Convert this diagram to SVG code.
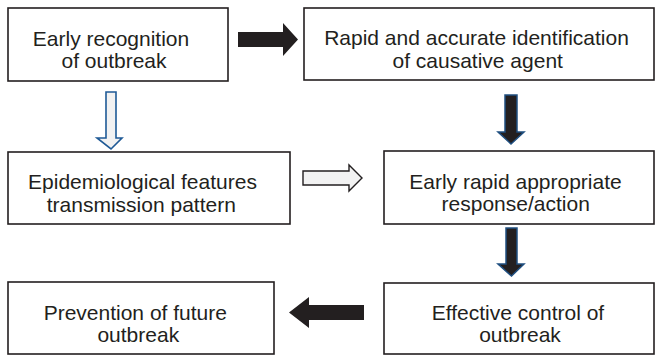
<svg xmlns="http://www.w3.org/2000/svg" width="656" height="356" viewBox="0 0 656 356">
<style>
.box{fill:#fff;stroke:#231f20;stroke-width:1.6}
.t{font-family:"Liberation Sans",Arial,sans-serif;font-size:21px;fill:#231f20;text-anchor:middle}
.blk{fill:#231f20}
.blkb{fill:#231f20;stroke:#1f4f80;stroke-width:1.5;stroke-linejoin:miter}
.openb{fill:#f2f2f2;stroke:#1f5a96;stroke-width:1.6}
.openk{fill:#f2f2f2;stroke:#231f20;stroke-width:1.4}
</style>
<rect width="656" height="356" fill="#fff"/>
<g id="n1"><rect class="box" x="8" y="8" width="220" height="73"/>
<text class="t"><tspan x="111" y="46">Early recognition</tspan><tspan x="114" y="68">of outbreak</tspan></text></g>
<g id="n2"><rect class="box" x="304" y="8" width="350" height="72"/>
<text class="t"><tspan x="476.5" y="45">Rapid and accurate identification</tspan><tspan x="477.7" y="68">of causative agent</tspan></text></g>
<g id="n3"><rect class="box" x="8" y="152" width="282" height="72"/>
<text class="t"><tspan x="142.5" y="188.5">Epidemiological features</tspan><tspan x="141.3" y="211.5">transmission pattern</tspan></text></g>
<g id="n4"><rect class="box" x="384" y="151" width="270" height="73"/>
<text class="t"><tspan x="515.5" y="188.5">Early rapid appropriate</tspan><tspan x="515.7" y="211">response/action</tspan></text></g>
<g id="n5"><rect class="box" x="384" y="283" width="270" height="71"/>
<text class="t"><tspan x="518" y="320">Effective control of</tspan><tspan x="520" y="342">outbreak</tspan></text></g>
<g id="n6"><rect class="box" x="8" y="282" width="266" height="72"/>
<text class="t"><tspan x="135.3" y="320">Prevention of future</tspan><tspan x="138.3" y="342">outbreak</tspan></text></g>
<g id="connectors">
<polygon class="blk" points="238,32 283,32 283,23 298,39.5 283,56 283,47 238,47"/>
<polygon class="openb" points="106,92 116,92 116,138 122,138 111,149 97,138 106,138" transform="translate(0,0)"/>
<polygon class="blkb" points="505,95 517,95 517,132 524,132 511,144 498,132 505,132"/>
<polygon class="blkb" points="506,228 517,228 517,264 524,264 511.5,276 498,264 506,264"/>
<polygon class="openk" points="303,171 349,171 349,165 362,178 349,191 349,185 303,185"/>
<polygon class="blk" points="364,305 309,305 309,297 289,312.5 309,328 309,320 364,320"/>
</g>
</svg>
